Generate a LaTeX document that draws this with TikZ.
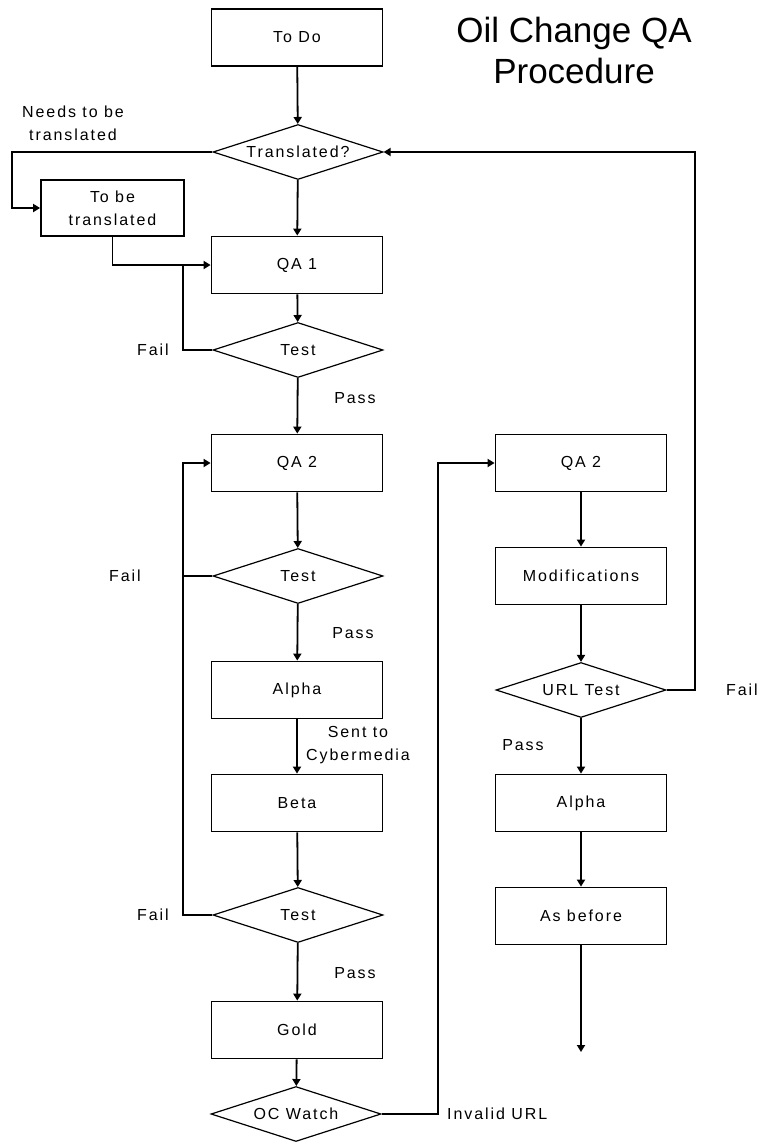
\documentclass[tikz,border=0pt]{standalone}
\usepackage{fontspec}
\setmainfont{Liberation Sans}
\newfontfamily\chartFont[LetterSpace=12]{Liberation Sans}
\usetikzlibrary{shapes.geometric, arrows.meta}
\tikzstyle{chart} = [x = 1pt, y = -1pt]
\tikzstyle{chartText} = [font=\chartFont\fontsize{16}{23}\selectfont]
\tikzstyle{processStyle} = [draw, chartText, line width=1.8pt, minimum width=171pt, minimum height=57pt, inner sep=0pt, align=center]
\tikzstyle{decisionStyle} = [draw, chartText, diamond, aspect=3, line width=1.2pt, minimum width=170pt, minimum height=55pt, inner sep=0pt]
\tikzstyle{labelText} = [chartText, align=center, inner sep=0pt]
\tikzstyle{flowLine} = [line width=1.8pt, -{Triangle[length=7pt, width=8pt]}]
\tikzstyle{plainLine} = [line width=1.8pt]
\newcommand{\processBox}[4]{\node [processStyle] (#1) at (#2, #3) {#4};}
\newcommand{\decision}[4]{\node [decisionStyle] (#1) at (#2, #3) {#4};}
\newcommand{\flowLabel}[4]{\node [labelText] (#1) at (#2, #3) {#4};}

\begin{document}
\begin{tikzpicture}[chart]
  \useasboundingbox (0, 0) rectangle (760, 1144);

  \node [align=center, font=\fontsize{35}{41}\selectfont] (title) at (574, 50) {Oil Change QA\\Procedure};

  \processBox{toDo}{297}{37.5}{To Do}
  \decision{translated}{298}{152}{Translated?}
  \node [processStyle, minimum width=143pt, minimum height=56pt] (toBeTranslated) at (112.5, 208) {To be\\translated};
  \processBox{qaOne}{297}{265}{QA 1}
  \decision{testOne}{298}{350}{Test}
  \processBox{qaTwo}{297}{463}{QA 2}
  \decision{testTwo}{298}{576}{Test}
  \processBox{alpha}{297}{690}{Alpha}
  \processBox{beta}{297}{803}{Beta}
  \decision{testThree}{298}{915}{Test}
  \processBox{gold}{297}{1030}{Gold}
  \decision{ocWatch}{296}{1114}{OC Watch}

  \processBox{qaTwoRight}{581}{463}{QA 2}
  \processBox{modifications}{581}{576}{Modifications}
  \decision{urlTest}{581}{690}{URL Test}
  \processBox{alphaRight}{581}{803}{Alpha}
  \processBox{asBefore}{581}{916}{As before}
  \coordinate (rightEnd) at (581, 1052);

  \flowLabel{needsLabel}{73}{123}{Needs to be\\translated}
  \flowLabel{failOne}{153}{350}{Fail}
  \flowLabel{passOne}{355}{398}{Pass}
  \flowLabel{failTwo}{125}{576}{Fail}
  \flowLabel{passTwo}{353}{633}{Pass}
  \flowLabel{sentLabel}{358}{745}{Sent to\\Cybermedia}
  \flowLabel{failThree}{153}{915}{Fail}
  \flowLabel{passThree}{355}{973}{Pass}
  \node [labelText, anchor=west] (invalidLabel) at (447, 1114) {Invalid URL};
  \flowLabel{failUrl}{742}{690}{Fail}
  \flowLabel{passUrl}{523}{745}{Pass}

  \draw [flowLine] (toDo) -- (translated);
  \draw [flowLine] (translated) -- (qaOne);
  \draw [flowLine] (translated.west) -- (12, 152) |- (toBeTranslated.west);
  \draw [flowLine] (toBeTranslated.south) |- (qaOne.west);
  \draw [flowLine] (qaOne) -- (testOne);
  \draw [plainLine] (testOne.west) -- (183, 350) -- (183, 265);
  \draw [flowLine] (testOne) -- (qaTwo);
  \draw [flowLine] (qaTwo) -- (testTwo);
  \draw [plainLine] (testTwo.west) -- (183, 576);
  \draw [flowLine] (testThree.west) -- (183, 915) |- (qaTwo.west);
  \draw [flowLine] (testTwo) -- (alpha);
  \draw [flowLine] (alpha) -- (beta);
  \draw [flowLine] (beta) -- (testThree);
  \draw [flowLine] (testThree) -- (gold);
  \draw [flowLine] (gold) -- (ocWatch);
  \draw [flowLine] (ocWatch.east) -- (438, 1114) |- (qaTwoRight.west);

  \draw [flowLine] (qaTwoRight) -- (modifications);
  \draw [flowLine] (modifications) -- (urlTest);
  \draw [flowLine] (urlTest.east) -- (695, 690) |- (translated.east);
  \draw [flowLine] (urlTest) -- (alphaRight);
  \draw [flowLine] (alphaRight) -- (asBefore);
  \draw [flowLine] (asBefore) -- (rightEnd);
\end{tikzpicture}
\end{document}
